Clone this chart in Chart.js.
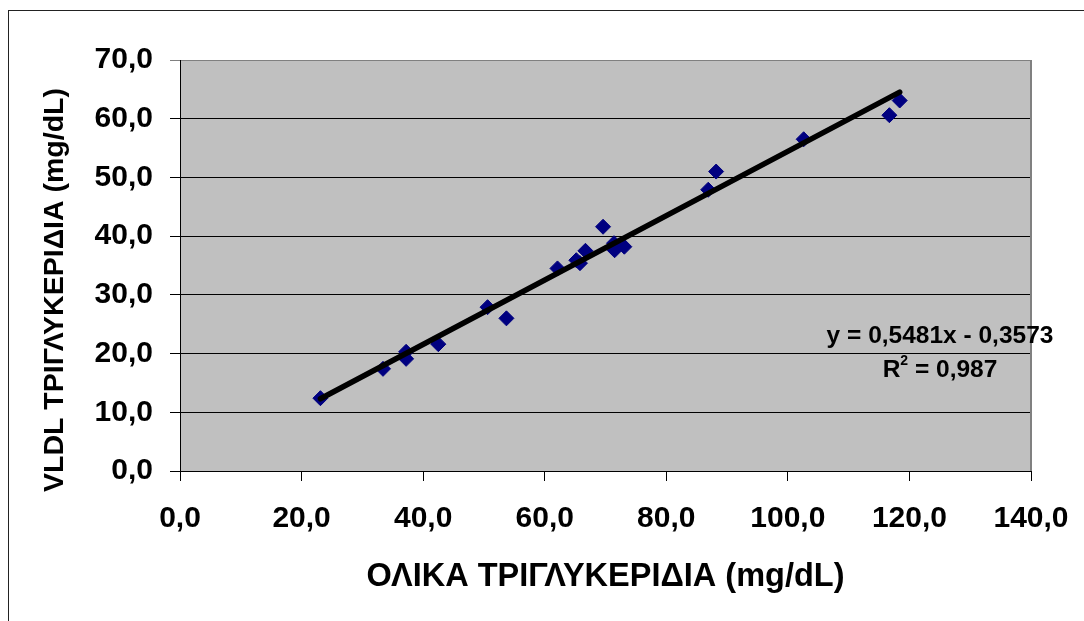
<!DOCTYPE html>
<html>
  <head>
    <meta charset="utf-8" />
    <title>VLDL vs ολικά τριγλυκερίδια</title>
    <script src="https://cdn.jsdelivr.net/npm/chart.js"></script>
    <style>
      body {
        margin: 0;
        background: #fff;
        overflow: hidden;
      }
      .frame {
        position: absolute;
        left: 8px;
        top: 10px;
        width: 1200px;
        height: 800px;
        border: 1px solid #222;
      }
      #chart-container {
        position: absolute;
        left: 0;
        top: 0;
        width: 1084px;
        height: 621px;
      }
    </style>
  </head>
  <body>
    <div class="frame"></div>
    <div id="chart-container">
      <canvas id="myChart"></canvas>
    </div>

    <script>
      // Μετρήσεις (mg/dL)
      const totalTg = [23.1, 33.4, 37.2, 37.2, 42.5, 50.6, 53.7, 62.1, 65.2, 65.8, 66.7, 69.6, 71.4, 71.5, 73.1, 86.9, 88.2, 102.6, 116.7, 118.4];
      const vldlTg = [12.4, 17.4, 20.3, 19.1, 21.6, 27.9, 26.0, 34.5, 35.9, 35.4, 37.5, 41.6, 38.8, 37.6, 38.2, 47.9, 51.0, 56.5, 60.6, 63.1];

      // Γραμμική τάση
      const slope = 0.5481;
      const intercept = -0.3573;
      const rSquared = 0.987;

      const xTitle = "ΟΛΙΚΑ ΤΡΙΓΛΥΚΕΡΙΔΙΑ (mg/dL)";
      const yTitle = "VLDL ΤΡΙΓΛΥΚΕΡΙΔΙΑ (mg/dL)";
      const xRange = [0, 140];
      const yRange = [0, 70];

      const fmt = (v) => v.toFixed(1).replace(".", ",");
      const fmtNum = (v) => String(Math.abs(v)).replace(".", ",");

      const points = totalTg.map((x, i) => ({ x: x, y: vldlTg[i] }));
      const xMin = Math.min(...totalTg);
      const xMax = Math.max(...totalTg);
      const trend = [
        { x: xMin, y: slope * xMin + intercept },
        { x: xMax, y: slope * xMax + intercept },
      ];

      const FONT = "'Liberation Sans', Arial, sans-serif";

      // Φόντο περιοχής σχεδίασης, πλαίσιο, τίτλοι αξόνων και εξίσωση
      const decor = {
        id: "decor",
        beforeDraw(chart) {
          const { ctx, chartArea: a } = chart;
          ctx.save();
          ctx.fillStyle = "#C0C0C0";
          ctx.fillRect(a.left, a.top, a.right - a.left, a.bottom - a.top);
          ctx.restore();
        },
        afterDraw(chart) {
          const { ctx, chartArea: a } = chart;
          ctx.save();
          ctx.strokeStyle = "#808080";
          ctx.lineWidth = 2;
          ctx.beginPath();
          ctx.moveTo(a.right, a.top);
          ctx.lineTo(a.right, a.bottom);
          ctx.stroke();

          ctx.fillStyle = "#000";
          ctx.textAlign = "center";
          ctx.textBaseline = "middle";

          ctx.font = "bold 32.5px " + FONT;
          ctx.fillText(xTitle, (a.left + a.right) / 2, 577);

          ctx.save();
          ctx.translate(55, 290);
          ctx.rotate(-Math.PI / 2);
          ctx.font = "bold 28.5px " + FONT;
          ctx.fillText(yTitle, 0, 0);
          ctx.restore();

          ctx.font = "bold 24.5px " + FONT;
          const eq = "y = " + fmtNum(slope) + "x " + (intercept < 0 ? "- " : "+ ") + fmtNum(intercept);
          ctx.fillText(eq, 940, 336);

          const r1 = "R";
          const r2 = " = " + fmtNum(rSquared);
          const w1 = ctx.measureText(r1).width;
          const w2 = ctx.measureText(r2).width;
          ctx.font = "bold 14px " + FONT;
          const ws = ctx.measureText("2").width;
          const x0 = 940 - (w1 + ws + w2) / 2;
          ctx.textAlign = "left";
          ctx.font = "bold 24.5px " + FONT;
          ctx.fillText(r1, x0, 370);
          ctx.fillText(r2, x0 + w1 + ws, 370);
          ctx.font = "bold 14px " + FONT;
          ctx.fillText("2", x0 + w1, 361);
          ctx.restore();
        },
      };

      const ctx = document.getElementById("myChart").getContext("2d");
      const chart = new Chart(ctx, {
        data: {
          datasets: [
            {
              type: "scatter",
              data: points,
              pointStyle: "rectRot",
              pointRadius: 7.5,
              backgroundColor: "#000080",
              borderColor: "#000080",
              borderWidth: 1,
              order: 2,
            },
            {
              type: "line",
              data: trend,
              borderColor: "#000",
              borderWidth: 5.5,
              borderCapStyle: "round",
              pointRadius: 0,
              fill: false,
              order: 1,
            },
          ],
        },
        options: {
          responsive: true,
          maintainAspectRatio: false,
          animation: false,
          events: [],
          layout: {
            padding: { top: 60, right: 53, left: 0, bottom: 0 },
          },
          plugins: {
            legend: { display: false },
            tooltip: { enabled: false },
          },
          scales: {
            x: {
              type: "linear",
              min: xRange[0],
              max: xRange[1],
              afterFit: (scale) => {
                scale.height = 150;
                scale.paddingLeft = 0;
                scale.paddingRight = 0;
              },
              ticks: {
                stepSize: 20,
                callback: (v) => fmt(v),
                color: "#000",
                font: { family: FONT, size: 30, weight: "bold" },
                padding: 20,
                maxRotation: 0,
              },
              grid: {
                drawOnChartArea: false,
                drawTicks: true,
                tickLength: 10,
                color: "#000",
              },
              border: { color: "#000", width: 1 },
            },
            y: {
              type: "linear",
              min: yRange[0],
              max: yRange[1],
              afterFit: (scale) => {
                scale.width = 180;
                scale.paddingTop = 0;
                scale.paddingBottom = 0;
              },
              ticks: {
                stepSize: 10,
                callback: (v) => fmt(v),
                color: "#000",
                font: { family: FONT, size: 30, weight: "bold" },
                padding: 17,
              },
              grid: {
                color: (c) => (c.tick && c.tick.value === yRange[1] ? "#808080" : "#000"),
                lineWidth: 1,
                tickLength: 10,
              },
              border: { color: "#000", width: 1 },
            },
          },
        },
        plugins: [decor],
      });
    </script>
  </body>
</html>
